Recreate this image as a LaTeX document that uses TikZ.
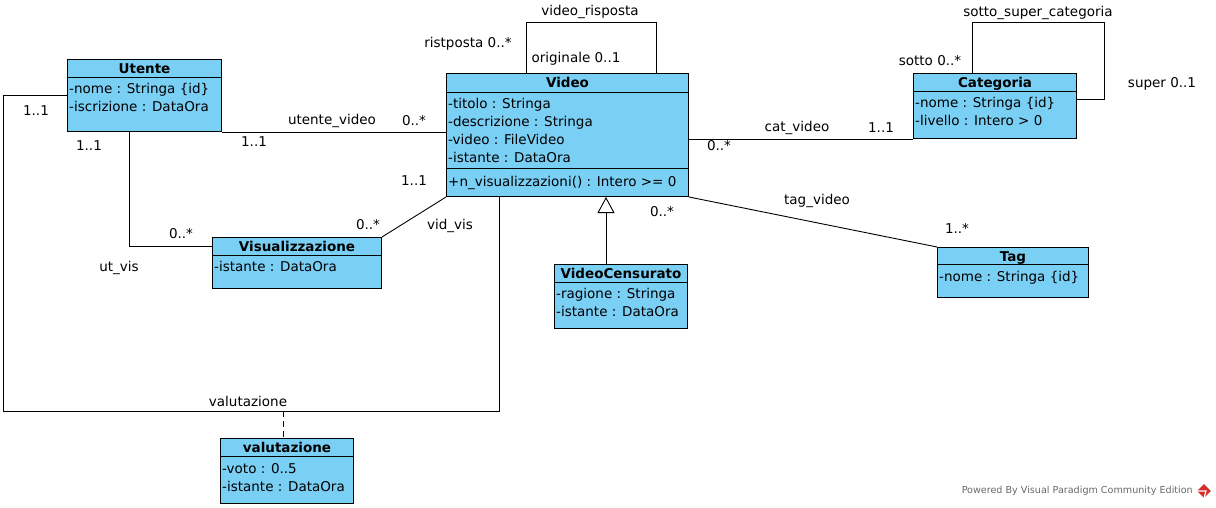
\documentclass[tikz,border=0pt]{standalone}
\usepackage{xcolor}
\usepackage{fontspec}
\setmainfont{DejaVu Sans}
\usepackage{tikz}
\usetikzlibrary{arrows.meta,shapes.geometric}

\definecolor{vpblue}{RGB}{122,207,245}
\definecolor{vpgray}{RGB}{105,105,105}
\definecolor{vpred}{RGB}{214,45,45}

\begin{document}
\begin{tikzpicture}[x=1pt, y=-1pt,
    classbox/.style={rectangle, draw, fill=vpblue, line width=1pt, anchor=north west, inner sep=0pt},
    classtitle/.style={font=\fontsize{13.5}{16}\selectfont\bfseries, anchor=base, inner sep=0pt},
    attrs/.style={font=\fontsize{13.5}{18.1}\selectfont, align=left, anchor=base west, inner sep=0pt},
    lbl/.style={font=\fontsize{13.5}{16}\selectfont, inner sep=0pt},
    assoc/.style={line width=0.9pt}]
    \fill[white] (0,0) rectangle (1216,508);
    \useasboundingbox (0,0) rectangle (1216,508);

    % classes (attrs sit on the baseline of their last line)
    \node (utente) [classbox, minimum width=154pt, minimum height=72pt] at (67,59) {};
    \draw ([yshift=-18pt]utente.north west) -- ([yshift=-18pt]utente.north east);
    \node (utente-t) [classtitle] at ([yshift=-14.5pt]utente.north) {Utente};
    \node (utente-a) [attrs] at ([xshift=2pt,yshift=-52.6pt]utente.north west) {-nome : Stringa \{id\}\\-iscrizione : DataOra};

    \node (video) [classbox, minimum width=242pt, minimum height=123pt] at (446,73) {};
    \draw ([yshift=-19pt]video.north west) -- ([yshift=-19pt]video.north east);
    \draw ([yshift=-95pt]video.north west) -- ([yshift=-95pt]video.north east);
    \node (video-t) [classtitle] at ([yshift=-14.5pt]video.north) {Video};
    \node (video-a) [attrs] at ([xshift=2pt,yshift=-89.8pt]video.north west) {-titolo : Stringa\\-descrizione : Stringa\\-video : FileVideo\\-istante : DataOra};
    \node (video-o) [attrs] at ([xshift=2pt,yshift=-113pt]video.north west) {+n\_visualizzazioni() : Intero >= 0};

    \node (categoria) [classbox, minimum width=163pt, minimum height=65pt] at (913,73) {};
    \draw ([yshift=-18pt]categoria.north west) -- ([yshift=-18pt]categoria.north east);
    \node (categoria-t) [classtitle] at ([yshift=-14.5pt]categoria.north) {Categoria};
    \node (categoria-a) [attrs] at ([xshift=2pt,yshift=-52.6pt]categoria.north west) {-nome : Stringa \{id\}\\-livello : Intero > 0};

    \node (visual) [classbox, minimum width=169pt, minimum height=51pt] at (212,237) {};
    \draw ([yshift=-18pt]visual.north west) -- ([yshift=-18pt]visual.north east);
    \node (visual-t) [classtitle] at ([yshift=-14pt]visual.north) {Visualizzazione};
    \node (visual-a) [attrs] at ([xshift=2pt,yshift=-34.5pt]visual.north west) {-istante : DataOra};

    \node (vcens) [classbox, minimum width=133pt, minimum height=64pt] at (554,264) {};
    \draw ([yshift=-18pt]vcens.north west) -- ([yshift=-18pt]vcens.north east);
    \node (vcens-t) [classtitle] at ([yshift=-14pt]vcens.north) {VideoCensurato};
    \node (vcens-a) [attrs] at ([xshift=2pt,yshift=-52.6pt]vcens.north west) {-ragione : Stringa\\-istante : DataOra};

    \node (tag) [classbox, minimum width=151pt, minimum height=50pt] at (937,247) {};
    \draw ([yshift=-17.5pt]tag.north west) -- ([yshift=-17.5pt]tag.north east);
    \node (tag-t) [classtitle] at ([yshift=-14pt]tag.north) {Tag};
    \node (tag-a) [attrs] at ([xshift=2pt,yshift=-34pt]tag.north west) {-nome : Stringa \{id\}};

    \node (valut) [classbox, minimum width=133pt, minimum height=65pt] at (220,438) {};
    \draw ([yshift=-18.5pt]valut.north west) -- ([yshift=-18.5pt]valut.north east);
    \node (valut-t) [classtitle] at ([yshift=-14.5pt]valut.north) {valutazione};
    \node (valut-a) [attrs] at ([xshift=2pt,yshift=-53.1pt]valut.north west) {-voto : 0..5\\-istante : DataOra};

    % bends of the connectors
    \coordinate (utvis) at (129,246);
    \coordinate (valL) at (3,411);
    \coordinate (valR) at (499,411);
    \coordinate (valM) at (283,411);
    \coordinate (vrL) at (526,22);
    \coordinate (vrR) at (656,22);
    \coordinate (ssL) at (972,22);
    \coordinate (ssR) at (1104,99);
    \coordinate (gen) at (606,230);

    % associations
    \draw[assoc] (utente.south east) -- (utente.south east -| video.west);
    \draw[assoc] (utente.south -| utvis) |- (visual.west |- utvis);
    \draw[assoc] (visual.north east) -- (video.south west);
    \draw[assoc] (utente.west) -| (valL) -- (valR) -- (video.south -| valR);
    \draw[assoc, dash pattern=on 6pt off 4pt] (valM) -- (valut.north -| valM);
    \draw[assoc] (video.north -| vrL) -- (vrL) -- (vrR) -- (video.north -| vrR);
    \draw[assoc] (categoria.south west) -- (categoria.south west -| video.east);
    \draw[assoc] (categoria.north -| ssL) -- (ssL) -| (ssR) -- (categoria.east |- ssR);
    \draw[assoc] (video.south east) -- (tag.north west);
    \draw[assoc, -{Triangle[open, fill=white, length=16pt, width=17pt]}] (vcens.north -| gen) -- (video.south -| gen);

    % labels
    \node (uv-name) [lbl] at (332,121) {utente\_video};
    \node (uv-video) [lbl] at (414,121) {0..*};
    \node (uv-utente) [lbl] at (254,142) {1..1};
    \node (val-utente) [lbl] at (36,111) {1..1};
    \node (ut-utente) [lbl] at (89,146) {1..1};
    \node (ut-visual) [lbl] at (181,234) {0..*};
    \node (ut-name) [lbl] at (119,268) {ut\_vis};
    \node (vv-video) [lbl] at (414,181) {1..1};
    \node (vv-visual) [lbl] at (368,225) {0..*};
    \node (vv-name) [lbl] at (450,226) {vid\_vis};
    \node (val-name) [lbl] at (248,401) {valutazione};
    \node (vr-name) [lbl] at (590,12) {video\_risposta};
    \node (vr-risp) [lbl] at (468,44) {ristposta 0..*};
    \node (vr-orig) [lbl] at (576,59) {originale 0..1};
    \node (cv-name) [lbl] at (797,128) {cat\_video};
    \node (cv-cat) [lbl] at (881,128) {1..1};
    \node (cv-video) [lbl] at (719,146) {0..*};
    \node (ss-name) [lbl] at (1038,13) {sotto\_super\_categoria};
    \node (ss-sotto) [lbl] at (930,61) {sotto 0..*};
    \node (ss-super) [lbl] at (1162,84) {super 0..1};
    \node (tv-name) [lbl] at (817,201) {tag\_video};
    \node (tv-video) [lbl] at (662,212) {0..*};
    \node (tv-tag) [lbl] at (957,228) {1..*};

    % footer
    \node (powered) [font=\fontsize{9.6}{12}\selectfont, text=vpgray, anchor=east, inner sep=0pt] at (1193,491) {Powered By Visual Paradigm Community Edition};
    \node (vplogo) [diamond, fill=vpred, minimum size=14pt, inner sep=0pt] at (1204,491) {};
    \draw[white, line width=1.2pt] (vplogo.west) -- ([xshift=2pt]vplogo.center) -- (vplogo.south);
\end{tikzpicture}
\end{document}
